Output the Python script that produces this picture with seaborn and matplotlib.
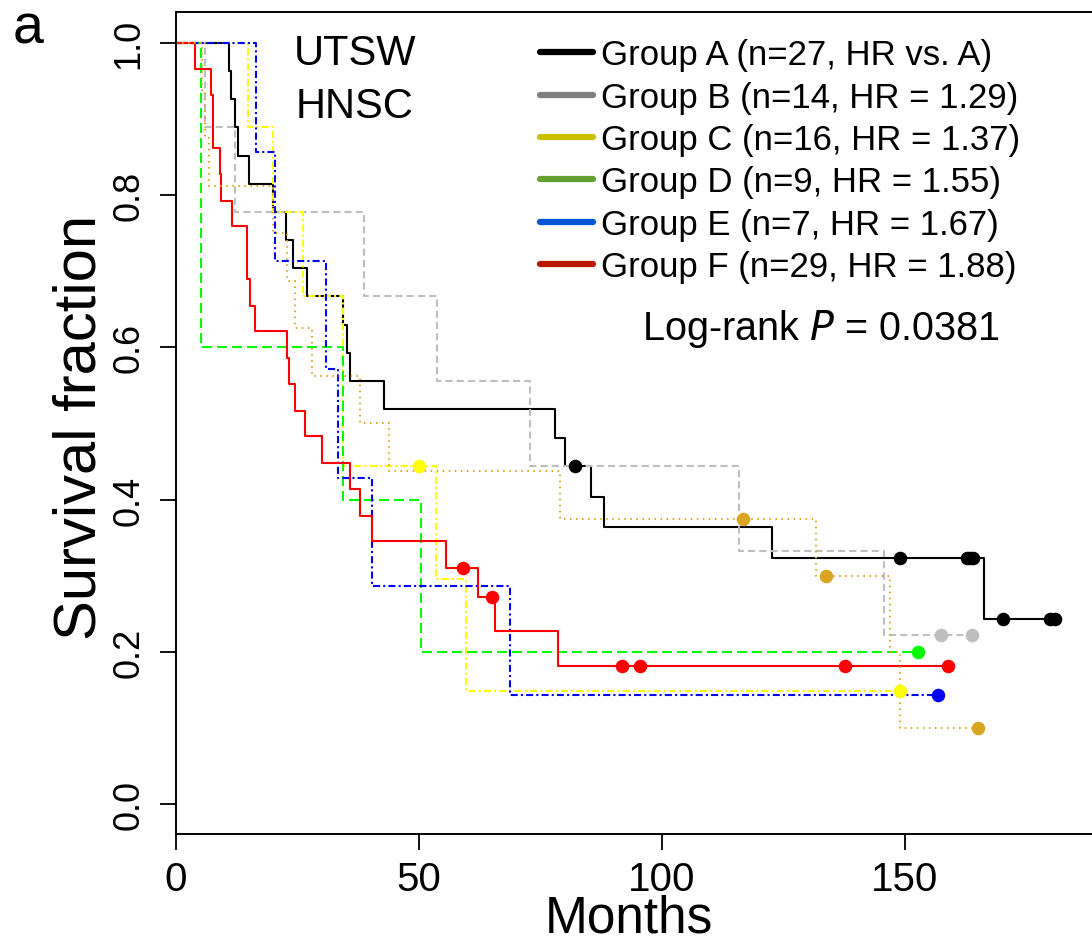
import numpy as np
import pandas as pd
import matplotlib
matplotlib.use("Agg")
import matplotlib.pyplot as plt
from matplotlib.lines import Line2D
import seaborn as sns

# Kaplan-Meier steps: event times (months) and survival after each step
a_time = [0, 10.9, 11.3, 12.2, 12.8, 15.0, 20.0, 22.7, 24.1, 26.9, 34.3, 35.1, 35.8, 42.7, 77.9, 80.0, 85.4, 88.1, 122.7, 166.3]
a_surv = [1, .963, .926, .889, .852, .815, .778, .741, .704, .667, .630, .593, .556, .519, .481, .444, .404, .364, .323, .243]
a_cens = [82.2, 148.9, 162.7, 163.3, 164.0, 170.2, 179.8, 180.8]

b_time = [0, 6.0, 12.2, 38.6, 53.8, 72.9, 115.9, 145.6]
b_surv = [1, .889, .778, .667, .556, .444, .333, .222]
b_cens = [157.4, 163.7]

c_time = [0, 14.9, 19.9, 26.1, 34.4, 53.6, 59.6]
c_surv = [1, .889, .778, .667, .444, .296, .148]
c_cens = [50.0, 149.0]

d_time = [0, 5.1, 34.3, 50.4]
d_surv = [1, .6, .4, .2]
d_cens = [152.6]

e_time = [0, 16.4, 20.4, 30.9, 33.3, 40.3, 68.8]
e_surv = [1, .857, .714, .571, .429, .286, .143]
e_cens = [156.8]

f_time = [0, 3.9, 7.1, 7.7, 9.15, 9.35, 11.5, 14.7, 15.2, 16.2, 22.9, 23.2, 24.4, 26.6, 30.0,
          35.7, 37.8, 40.4, 55.5, 62.1, 65.6, 78.6]
f_surv = [1, .966, .931, .862, .828, .793, .759, .690, .655, .621, .586, .552, .517, .483, .448,
          .414, .379, .345, .310, .272, .227, .181]
f_cens = [59.1, 65.0, 91.7, 95.5, 137.6, 158.9]

# dotted goldenrod curve (no legend entry in the original)
g_time = [0, 5.3, 6.0, 6.8, 19.9, 22.8, 24.4, 28.0, 37.8, 43.9, 79.0, 131.6, 146.9, 149.0]
g_surv = [1, .9375, .875, .8125, .75, .6875, .625, .5625, .5, .4375, .375, .30, .20, .10]
g_cens = [116.6, 133.8, 165.1]

legend_labels = ["Group A (n=27, HR vs. A)", "Group B (n=14, HR = 1.29)",
                 "Group C (n=16, HR = 1.37)", "Group D (n=9, HR = 1.55)",
                 "Group E (n=7, HR = 1.67)", "Group F (n=29, HR = 1.88)"]
legend_colors = ["black", "#808080", "#C8C000", "#66A030", "#0055D4", "#B81800"]

curves = [
    (a_time, a_surv, a_cens, "black", "-"),
    (b_time, b_surv, b_cens, "#BEBEBE", (0, (3.4, 2.0))),
    (c_time, c_surv, c_cens, "#FFFF00", (0, (3.4, 1.5, 1.0, 1.5))),
    (d_time, d_surv, d_cens, "#00FF00", (0, (4.8, 2.4))),
    (e_time, e_surv, e_cens, "#0000FF", (0, (3.4, 1.5, 1.0, 1.5))),
    (f_time, f_surv, f_cens, "#FF0000", "-"),
    (g_time, g_surv, g_cens, "#DAA520", (0, (0.7, 2.2))),
]

sns.set_style("ticks")
plt.rcParams['font.family'] = ['Liberation Sans', 'DejaVu Sans']
plt.rcParams['text.color'] = 'black'
plt.rcParams['axes.labelcolor'] = 'black'
plt.rcParams['xtick.color'] = 'black'
plt.rcParams['ytick.color'] = 'black'

fig = plt.figure(figsize=(10.92, 9.45), dpi=100)
ax = fig.add_axes([176 / 1092, 110 / 945, 918 / 1092, 822 / 945])

for t, s, cens, col, ls in curves:
    t = np.array(t, dtype=float)
    s = np.array(s, dtype=float)
    end = max(max(cens), t[-1])
    df = pd.DataFrame({"time": np.append(t, end), "surv": np.append(s, s[-1])})
    sns.lineplot(data=df, x="time", y="surv", ax=ax, color=col, linestyle=ls,
                 linewidth=1.5, drawstyle="steps-post", estimator=None, sort=False)
    cy = s[np.searchsorted(t, cens, side="right") - 1]
    sns.scatterplot(x=cens, y=cy, ax=ax, color=col, s=95, linewidth=0, zorder=3)

ax.set_xlim(0, 918 / 4.86)
ax.set_ylim(-0.0394, 1.0407)
ax.set_xticks([0, 50, 100, 150])
ax.set_xticklabels(["0", "50", "100", "150"], family=['Liberation Sans Narrow', 'Liberation Sans'],
                   fontsize=29)
ax.set_yticks([0, 0.2, 0.4, 0.6, 0.8, 1.0])
ax.set_yticklabels(["0.0", "0.2", "0.4", "0.6", "0.8", "1.0"], rotation=90, va="center", fontsize=26)
ax.tick_params(axis="both", length=11.5, width=1.3, color="black", labelcolor="black")
ax.tick_params(axis="x", pad=7)
ax.tick_params(axis="y", pad=10)
ax.set_xlabel("")
ax.set_ylabel("")
for sp in ["left", "top", "bottom"]:
    ax.spines[sp].set_linewidth(1.4)
    ax.spines[sp].set_color("black")
ax.spines["right"].set_visible(False)

handles = [Line2D([], [], color=c, lw=4.5) for c in legend_colors]
ax.legend(handles, legend_labels, loc="upper left", bbox_to_anchor=(0.397, 0.968),
          frameon=False, fontsize=25, handlelength=1.5, handletextpad=0.25,
          labelspacing=0.27, borderpad=0, borderaxespad=0)

fig.text(355 / 1092, 1 - 65 / 945, "UTSW", fontsize=30, ha="center", va="baseline")
fig.text(355 / 1092, 1 - 118 / 945, "HNSC", fontsize=30, ha="center", va="baseline")
fig.text(642 / 1092, 1 - 340 / 945, "Log-rank $\\mathit{P}$ = 0.0381", fontsize=28.5,
         ha="left", va="baseline")
fig.text(80 / 1092, 1 - 427 / 945, "Survival fraction", fontsize=43, rotation=90,
         ha="center", va="center")
fig.text(629 / 1092, 1 - 933 / 945, "Months", fontsize=37, ha="center", va="baseline")
fig.text(13 / 1092, 1 - 43 / 945, "a", fontsize=40, ha="left", va="baseline")

fig.savefig("out.png", dpi=100)
